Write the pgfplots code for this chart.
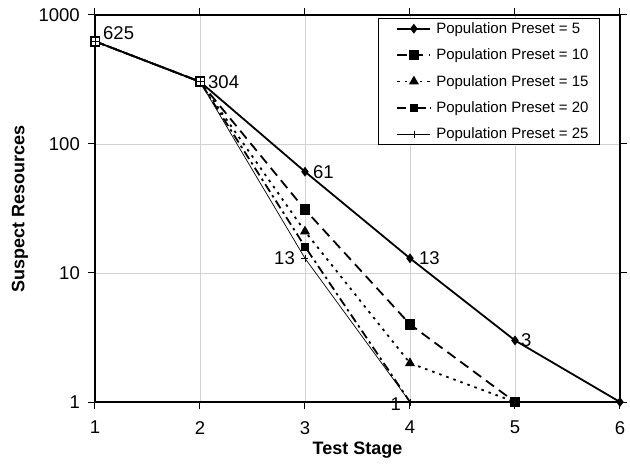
\documentclass[border=0pt]{standalone}
\usepackage{pgfplots}
\pgfplotsset{compat=1.18}
\usepackage{fontspec}
\setmainfont{Liberation Sans}
\begin{document}
\begin{tikzpicture}
\path[use as bounding box] (-95pt,-67pt) rectangle (535pt,402pt);
\begin{axis}[
  at={(0pt,0pt)}, anchor=south west,
  scale only axis, width=525pt, height=387pt,
  xmin=1, xmax=6, ymin=1, ymax=1000,
  ymode=log, log basis y=10,
  xtick={1,2,3,4,5,6},
  ytick={1,10,100,1000}, yticklabels={1,10,100,1000},
  minor ytick={},
  /pgf/number format/assume math mode=true,
  grid=major, major grid style={gray!35, line width=0.8pt},
  axis line style={line width=1.7pt},
  tick style={black, line width=1pt}, tick align=outside, major tick length=7pt,
  tick label style={font=\fontsize{18.5}{22}\selectfont},
  yticklabel style={anchor=east, inner sep=0pt, xshift=-8pt},
  xticklabel style={anchor=north, inner sep=0pt, yshift=-12pt},
  xlabel={Test Stage}, ylabel={Suspect Resources},
  label style={font=\bfseries\fontsize{18}{22}\selectfont},
  xlabel style={at={(axis description cs:0.5,-0.124)}, anchor=center},
  ylabel style={at={(axis description cs:-0.1429,0.5)}, anchor=center},
  legend style={at={(0.9619,0.9922)}, anchor=north east, draw=black, line width=1pt,
    font=\fontsize{15}{17}\selectfont, inner xsep=9pt, inner ysep=2pt,
    row sep=10pt, cells={anchor=west}},
  legend cell align=left,
  legend image code/.code={\path (0pt,0pt) (45pt,0pt); \draw[mark repeat=2,mark phase=2,#1] plot coordinates {(9pt,0pt) (25.5pt,0pt) (42pt,0pt)};},
  clip=false,
]
\addlegendimage{black, line width=1.8pt, mark=diamond*, mark size=3.5pt, mark options={solid}}
\addlegendentry{Population Preset = 5}
\addlegendimage{black, line width=1.8pt, dash pattern=on 10pt off 6pt, mark=square*, mark size=4.5pt, mark options={solid}}
\addlegendentry{Population Preset = 10}
\addlegendimage{black, line width=1.8pt, dash pattern=on 2.5pt off 5pt, mark=triangle*, mark size=4pt, mark options={solid}}
\addlegendentry{Population Preset = 15}
\addlegendimage{black, line width=1.8pt, dash pattern=on 9pt off 4pt on 2.5pt off 4pt, mark=square*, mark size=3pt, mark options={solid}}
\addlegendentry{Population Preset = 20}
\addlegendimage{black, line width=0.7pt, mark=+, mark size=3.5pt, mark options={solid}}
\addlegendentry{Population Preset = 25}
\addplot[forget plot, black, line width=1.8pt, mark=diamond*, mark size=3.5pt, mark options={solid}]
  coordinates {(1,625) (2,304) (3,61) (4,13) (5,3) (6,1)};
\addplot[forget plot, black, line width=1.8pt, dash pattern=on 10pt off 6pt, mark=square*, mark size=4.5pt, mark options={solid}]
  coordinates {(1,625) (2,304) (3,31) (4,4) (5,1)};
\addplot[forget plot, black, line width=1.8pt, dash pattern=on 2.5pt off 5pt, mark=triangle*, mark size=4pt, mark options={solid}, mark indices={1,2,3,4}]
  coordinates {(1,625) (2,304) (3,21) (4,2) (5,1)};
\addplot[forget plot, black, line width=1.8pt, dash pattern=on 9pt off 4pt on 2.5pt off 4pt, mark=square*, mark size=3pt, mark options={solid}, mark indices={1,2,3}]
  coordinates {(1,625) (2,304) (3,16) (4,1)};
\addplot[forget plot, black, line width=0.7pt, mark=+, mark size=3.5pt, mark options={solid}]
  coordinates {(1,625) (2,304) (3,13) (4,1)};
\addplot[only marks, forget plot, mark=square*, mark size=4pt, mark options={fill=white, draw=black, line width=0.8pt}]
  coordinates {(1,625) (2,304)};
\addplot[only marks, forget plot, mark=+, mark size=4pt, mark options={black, line width=0.6pt}]
  coordinates {(1,625) (2,304)};
\begin{scope}[every node/.style={font=\fontsize{18.5}{22}\selectfont, inner sep=0pt}]
\node[anchor=base west, xshift=8pt, yshift=2pt] at (axis cs:1,625) {625};
\node[anchor=west, xshift=8pt] at (axis cs:2,304) {304};
\node[anchor=west, xshift=8pt] at (axis cs:3,61) {61};
\node[anchor=west, xshift=9pt] at (axis cs:4,13) {13};
\node[anchor=west, xshift=6pt] at (axis cs:5,3) {3};
\node[anchor=east, xshift=-10pt] at (axis cs:3,13) {13};
\node[anchor=east, xshift=-9pt, yshift=-2pt] at (axis cs:4,1) {1};
\end{scope}
\end{axis}
\end{tikzpicture}
\end{document}
